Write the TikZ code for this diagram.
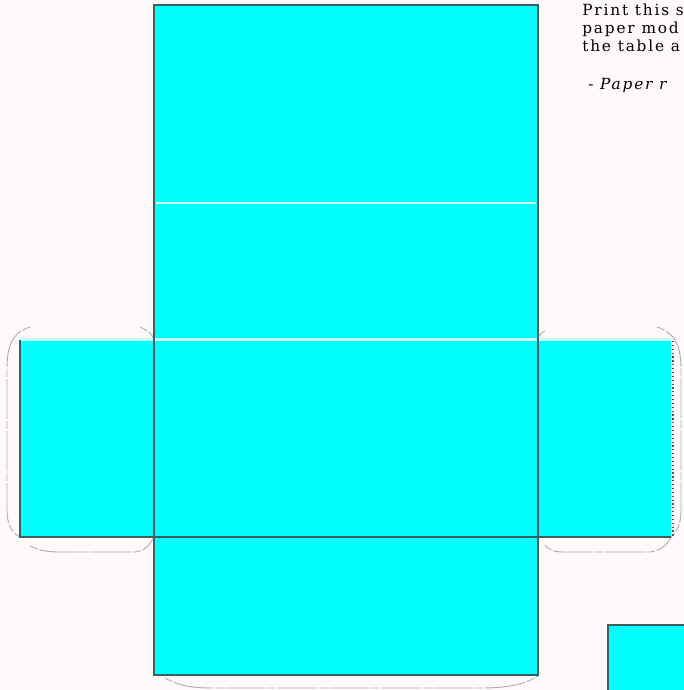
\documentclass[tikz,border=0pt]{standalone}
\usepackage{fontspec}
\setmainfont{DejaVu Serif}[LetterSpace=12]
\definecolor{panel}{HTML}{00FFFF}
\definecolor{edge}{HTML}{3F5F5F}
\definecolor{crease}{HTML}{C8FFFF}
\definecolor{tab}{HTML}{B0B0B0}
\tikzset{
  face/.style={fill=panel,draw=none},
  cut/.style={draw=edge,line width=0.9pt},
  fold/.style={draw=crease,line width=1.6pt},
  tabline/.style={draw=tab,line width=0.7pt,dash pattern=on 6pt off 1.5pt on 30pt off 1.5pt},
  note/.style={anchor=base west,inner sep=0pt,font=\fontsize{11.5pt}{13pt}\selectfont}
}
\begin{document}
\begin{tikzpicture}[x=0.75pt,y=-0.75pt]
\useasboundingbox (0,0) rectangle (684,690);
\fill[white!98!red] (0,0) rectangle (684,690);
\clip (0,0) rectangle (684,690);
% faces
\path[face] (154,5) rectangle (538,675);
\path[face] (20,340) rectangle (154,537);
\path[face] (538,340) rectangle (671,537);
\path[face] (608,625) rectangle (690,695);
% fold lines
\draw[fold] (156,203) -- (536,203);
\draw[fold] (20,339.5) -- (671,339.5);
% glue tab outlines
\draw[tabline] (30,327) .. controls (12,333) and (7,345) .. (7,370) -- (7,510) .. controls (7,525) and (12,533) .. (20,537);
\draw[tabline] (30,546) .. controls (40,551) and (50,552) .. (60,552) -- (135,552) .. controls (145,551) and (150,545) .. (154,537);
\draw[tabline] (140,327) .. controls (147,330) and (152,334) .. (154,339);
\draw[tabline] (545,331) .. controls (540,333) and (539,336) .. (538,339);
\draw[tabline] (657,327) .. controls (675,333) and (681,345) .. (681,370) -- (681,510) .. controls (681,525) and (676,533) .. (671,537);
\draw[tabline] (545,545) .. controls (550,551) and (555,552) .. (565,552) -- (650,552) .. controls (660,551) and (667,545) .. (671,537);
\draw[tabline] (165,678) .. controls (180,686) and (190,688) .. (215,688) -- (480,688) .. controls (510,688) and (525,684) .. (538,676);
% cut lines
\draw[cut] (154,5) rectangle (538,675);
\draw[cut] (20,340) -- (20,537) -- (671,537);
\draw[edge,line width=0.9pt,dotted] (673,341) -- (673,536);
\draw[cut] (608,695) -- (608,625) -- (690,625);
% text
\node[note] (l1) at (582,15) {Print this s};
\node[note] (l2) at (582,33) {paper mod};
\node[note] (l3) at (582,51) {the table a};
\node[note,font=\fontsize{11.5pt}{13pt}\selectfont\itshape] (l4) at (588,89) {- Paper r};
\end{tikzpicture}
\end{document}
